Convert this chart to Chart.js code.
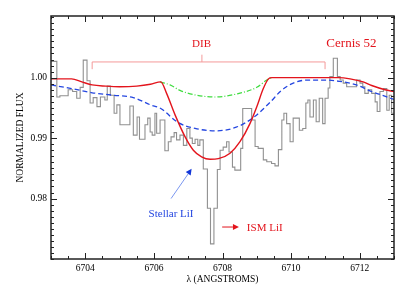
<!DOCTYPE html>
<html>
<head>
<meta charset="utf-8">
<script src="https://cdn.jsdelivr.net/npm/chart.js@4/dist/chart.umd.min.js"></script>
<style>
  html, body { margin: 0; padding: 0; background: #fff; }
  #wrap { width: 409px; height: 292px; }
</style>
</head>
<body>
<div id="wrap"><canvas id="spec" width="409" height="292"></canvas></div>
<script>
const xTicks = [6704, 6706, 6708, 6710, 6712];
const yTicks = [0.98, 0.99, 1.00];

// observed spectrum: start wavelength of each step and its flux
const obsWave = [6703.00, 6703.17, 6703.26, 6703.50, 6703.63, 6703.75, 6703.85, 6703.94, 6704.05, 6704.14,
                 6704.23, 6704.34, 6704.44, 6704.57, 6704.64, 6704.73, 6704.84, 6704.92, 6705.01, 6705.30,
                 6705.40, 6705.51, 6705.58, 6705.74, 6705.82, 6705.89, 6705.95, 6706.03, 6706.08, 6706.18,
                 6706.32, 6706.42, 6706.50, 6706.59, 6706.66, 6706.76, 6706.86, 6706.96, 6707.05, 6707.12,
                 6707.20, 6707.28, 6707.34, 6707.44, 6707.56, 6707.65, 6707.75, 6707.85, 6707.93, 6708.02,
                 6708.12, 6708.19, 6708.29, 6708.36, 6708.53, 6708.59, 6708.85, 6708.95, 6709.04, 6709.19,
                 6709.29, 6709.43, 6709.53, 6709.63, 6709.73, 6709.79, 6709.87, 6709.97, 6710.06, 6710.24,
                 6710.34, 6710.43, 6710.49, 6710.55, 6710.65, 6710.73, 6710.82, 6710.92, 6710.99, 6711.08,
                 6711.13, 6711.23, 6711.35, 6711.43, 6711.52, 6711.62, 6711.91, 6712.01, 6712.09, 6712.15,
                 6712.25, 6712.35, 6712.45, 6712.51, 6712.59, 6712.69, 6712.79, 6712.86, 6712.93, 6713.00];
const obsFlux = [1.0027, 0.9968, 0.9970, 0.9980, 0.9977, 0.9966, 0.9984, 1.0029, 0.9995, 0.9958,
                 0.9967, 0.9952, 0.9968, 0.9963, 0.9986, 0.9971, 0.9941, 0.9955, 0.9922, 0.9953,
                 0.9905, 0.9935, 0.9898, 0.9922, 0.9933, 0.9910, 0.9905, 0.9941, 0.9908, 0.9930,
                 0.9879, 0.9894, 0.9902, 0.9909, 0.9897, 0.9905, 0.9888, 0.9916, 0.9900, 0.9891,
                 0.9898, 0.9888, 0.9897, 0.9849, 0.9784, 0.9725, 0.9784, 0.9848, 0.9880, 0.9885,
                 0.9894, 0.9877, 0.9852, 0.9847, 0.9883, 0.9949, 0.9930, 0.9886, 0.9883, 0.9864,
                 0.9861, 0.9858, 0.9854, 0.9881, 0.9930, 0.9941, 0.9924, 0.9894, 0.9933, 0.9913,
                 0.9916, 0.9958, 0.9963, 0.9935, 0.9963, 0.9927, 0.9966, 0.9924, 0.9966, 0.9983,
                 1.0002, 1.0032, 1.0002, 0.9996, 0.9991, 0.9985, 0.9996, 0.9991, 0.9985, 0.9974,
                 0.9980, 0.9974, 0.9960, 0.9944, 0.9977, 0.9982, 0.9946, 0.9971, 0.9941, 0.9941];

// full model (DIB + interstellar LiI)
const modelWave = [6703.00, 6703.60, 6703.90, 6704.20, 6704.60, 6705.00, 6705.50, 6705.90, 6706.20, 6706.37,
                   6706.62, 6706.91, 6707.15, 6707.39, 6707.64, 6707.88, 6708.22, 6708.51, 6708.80, 6709.00,
                   6709.19, 6709.34, 6709.44, 6711.38, 6711.72, 6712.10, 6712.35, 6712.74, 6713.00];
const modelFlux = [0.9998, 0.9998, 0.9993, 0.9988, 0.9986, 0.9985, 0.9986, 0.9989, 0.9993, 0.9974,
                   0.9938, 0.9902, 0.9880, 0.9869, 0.9865, 0.9866, 0.9875, 0.9894, 0.9924, 0.9952,
                   0.9982, 0.9998, 1.0000, 1.0000, 0.9998, 0.9993, 0.9987, 0.9980, 0.9977];

// DIB alone
const dibWave = [6706.18, 6706.47, 6706.76, 6707.15, 6707.78, 6708.41, 6709.00, 6709.29, 6709.44];
const dibFlux = [0.9993, 0.9988, 0.9979, 0.9972, 0.9968, 0.9973, 0.9984, 0.9996, 1.0000];

// stellar LiI model
const starWave = [6703.00, 6703.60, 6704.20, 6704.80, 6705.40, 6705.90, 6706.20, 6706.70, 6707.20, 6707.80,
                  6708.40, 6708.90, 6709.40, 6709.70, 6710.10, 6710.50, 6711.00, 6711.40, 6711.90, 6712.35,
                  6712.75, 6713.00];
const starFlux = [0.9988, 0.9982, 0.9975, 0.9971, 0.9967, 0.9955, 0.9949, 0.9926, 0.9916, 0.9912,
                  0.9918, 0.9934, 0.9960, 0.9978, 0.9992, 0.9996, 0.9996, 0.9994, 0.9988, 0.9977,
                  0.9969, 0.9964];

const pts = (xs, ys) => xs.map((x, i) => ({ x: x, y: ys[i] }));

const SERIF = '"Liberation Serif", "Times New Roman", serif';
const RED = '#e3141c';
const BLUE = '#2446e0';

// inner ticks, frame and the labels / arrows
const decor = {
    id: 'decor',
    afterDatasetsDraw(chart) {
        const { ctx, chartArea: a, scales: { x, y } } = chart;
        ctx.save();
        ctx.strokeStyle = '#222';
        ctx.lineWidth = 1;
        ctx.beginPath();
        for (let i = 0; i <= 20; i++) {
            const v = 6703 + i * 0.5;
            const px = Math.round(x.getPixelForValue(v)) + 0.5;
            const len = xTicks.includes(v) ? 6 : 3;
            ctx.moveTo(px, a.bottom); ctx.lineTo(px, a.bottom - len);
            ctx.moveTo(px, a.top); ctx.lineTo(px, a.top + len);
        }
        for (let i = 0; i <= 40; i++) {
            const v = 0.97 + i * 0.001;
            const py = Math.round(y.getPixelForValue(v)) + 0.5;
            const len = yTicks.some(t => Math.abs(t - v) < 1e-6) ? 6 : 3;
            ctx.moveTo(a.left, py); ctx.lineTo(a.left + len, py);
            ctx.moveTo(a.right, py); ctx.lineTo(a.right - len, py);
        }
        ctx.stroke();

        ctx.lineWidth = 1.5;
        ctx.strokeRect(a.left, a.top, a.right - a.left, a.bottom - a.top);

        // DIB bracket
        ctx.strokeStyle = '#f49a9a';
        ctx.lineWidth = 1;
        const bl = x.getPixelForValue(6704.20), br = x.getPixelForValue(6710.99), bc = x.getPixelForValue(6707.40);
        const by = y.getPixelForValue(1.0026);
        ctx.beginPath();
        ctx.moveTo(bl, y.getPixelForValue(1.0014)); ctx.lineTo(bl, by); ctx.lineTo(br, by);
        ctx.lineTo(br, y.getPixelForValue(1.0014));
        ctx.moveTo(bc, by); ctx.lineTo(bc, y.getPixelForValue(1.0038));
        ctx.stroke();

        ctx.textBaseline = 'alphabetic';
        ctx.fillStyle = RED;
        ctx.textAlign = 'center';
        ctx.font = '11px ' + SERIF;
        ctx.fillText('DIB', x.getPixelForValue(6707.39), y.getPixelForValue(1.0051));
        ctx.font = '13px ' + SERIF;
        ctx.fillText('Cernis 52', x.getPixelForValue(6711.76), y.getPixelForValue(1.0051));

        ctx.font = '11px ' + SERIF;
        ctx.fillStyle = BLUE;
        ctx.fillText('Stellar LiI', x.getPixelForValue(6706.50), y.getPixelForValue(0.9769));
        ctx.fillStyle = RED;
        ctx.textAlign = 'left';
        ctx.fillText('ISM LiI', x.getPixelForValue(6708.71), y.getPixelForValue(0.97458));

        const arrow = (x0, y0, x1, y1, lineCol, headCol) => {
            const ang = Math.atan2(y1 - y0, x1 - x0);
            const hl = 6, hw = 3;
            const bx = x1 - hl * Math.cos(ang), byy = y1 - hl * Math.sin(ang);
            ctx.strokeStyle = lineCol;
            ctx.lineWidth = 1;
            ctx.beginPath(); ctx.moveTo(x0, y0); ctx.lineTo(bx, byy); ctx.stroke();
            ctx.fillStyle = headCol;
            ctx.beginPath();
            ctx.moveTo(x1, y1);
            ctx.lineTo(bx + hw * Math.sin(ang), byy - hw * Math.cos(ang));
            ctx.lineTo(bx - hw * Math.sin(ang), byy + hw * Math.cos(ang));
            ctx.closePath(); ctx.fill();
        };
        arrow(x.getPixelForValue(6706.50), y.getPixelForValue(0.9800),
              x.getPixelForValue(6707.10), y.getPixelForValue(0.98491), '#7b97f0', '#1236d8');
        arrow(x.getPixelForValue(6707.99), y.getPixelForValue(0.97529),
              x.getPixelForValue(6708.48), y.getPixelForValue(0.97529), RED, RED);
        ctx.restore();
    }
};

new Chart(document.getElementById('spec'), {
    type: 'line',
    data: {
        datasets: [
            { data: pts(modelWave, modelFlux), borderColor: RED, borderWidth: 1.4, cubicInterpolationMode: 'monotone', order: 0 },
            { data: pts(starWave, starFlux), borderColor: BLUE, borderWidth: 1.3, borderDash: [5, 3], cubicInterpolationMode: 'monotone', order: 1 },
            { data: pts(dibWave, dibFlux), borderColor: '#3fdc3f', borderWidth: 1.2, borderDash: [5, 2, 1, 2], cubicInterpolationMode: 'monotone', order: 2 },
            { data: pts(obsWave, obsFlux), borderColor: '#909090', borderWidth: 1.1, stepped: 'before', order: 3 }
        ]
    },
    options: {
        responsive: false,
        animation: false,
        events: [],
        layout: { padding: { top: 16, right: 15, left: 0, bottom: 0 } },
        elements: { point: { radius: 0 }, line: { fill: false } },
        plugins: { legend: { display: false }, tooltip: { enabled: false } },
        scales: {
            x: {
                type: 'linear', min: 6703, max: 6713,
                afterBuildTicks: s => { s.ticks = xTicks.map(v => ({ value: v })); },
                afterFit: s => { s.height = 33; },
                grid: { display: false, drawTicks: false },
                border: { display: false },
                ticks: { color: '#000', padding: 4, maxRotation: 0, autoSkip: false, callback: v => String(v), font: { family: SERIF, size: 9.5 } },
                title: { display: true, text: 'λ (ANGSTROMS)', color: '#000', font: { family: SERIF, size: 9.5 }, padding: { top: 0, bottom: 7 } }
            },
            y: {
                type: 'linear', min: 0.97, max: 1.0102,
                afterBuildTicks: s => { s.ticks = yTicks.map(v => ({ value: v })); },
                afterFit: s => { s.width = 51; },
                grid: { display: false, drawTicks: false },
                border: { display: false },
                ticks: { color: '#000', padding: 4, callback: v => v.toFixed(2), font: { family: SERIF, size: 9.5 } },
                title: { display: true, text: 'NORMALIZED FLUX', color: '#000', font: { family: SERIF, size: 9.5 }, padding: { top: 15, bottom: 0 } }
            }
        }
    },
    plugins: [decor]
});
</script>
</body>
</html>
